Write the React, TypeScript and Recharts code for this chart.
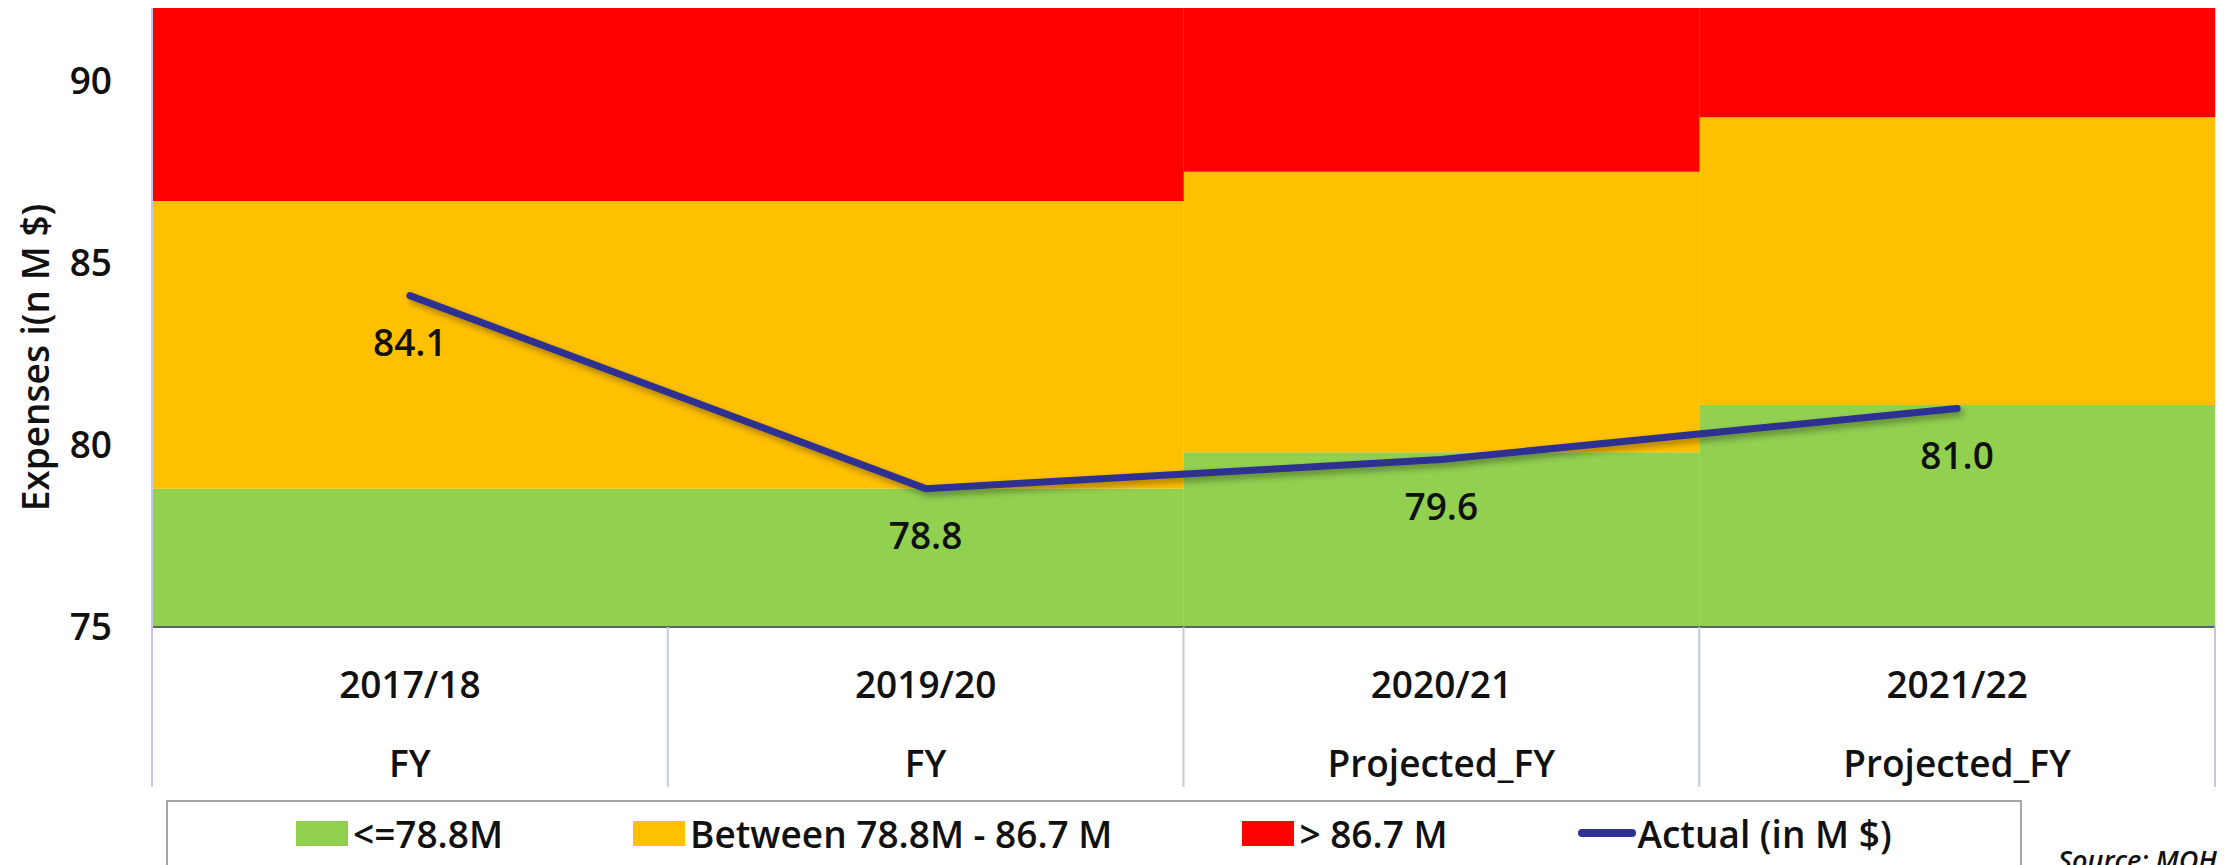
import {
  ComposedChart,
  Bar,
  Line,
  XAxis,
  YAxis,
  LabelList,
} from 'recharts';

// categories and values
const years = ['2017/18', '2019/20', '2020/21', '2021/22'];
const periods = ['FY', 'FY', 'Projected_FY', 'Projected_FY'];
const greenTop = [78.8, 78.8, 79.8, 81.1];
const redBottom = [86.7, 86.7, 87.5, 89.0];
const actual = [84.1, 78.8, 79.6, 81.0];

const yTicks = [75, 80, 85, 90];
const Y_MIN = 75;
const Y_MAX = 92;

const legendItems = [
  { label: '<=78.8M', color: '#92D050', kind: 'box' },
  { label: 'Between 78.8M - 86.7 M', color: '#FFC000', kind: 'box' },
  { label: '> 86.7 M', color: '#FF0000', kind: 'box' },
  { label: 'Actual (in M $)', color: '#2E3192', kind: 'line' },
];

const COLORS = {
  green: '#92D050',
  yellow: '#FFC000',
  red: '#FF0000',
  line: '#2E3192',
  text: '#111111',
  sep: '#c5c8e4',
};

const FONT = "'Open Sans', sans-serif";
const FS = 37;

const chartData = years.map((year, i) => ({
  year,
  period: periods[i],
  low: [Y_MIN, greenTop[i]],
  mid: [greenTop[i], redBottom[i]],
  high: [redBottom[i], Y_MAX],
  actual: actual[i],
}));

// two-line category tick with separators at the band edges
const CategoryTick = (props: any) => {
  const { x, y, payload } = props;
  const idx = years.indexOf(payload.value);
  const half = payload.offset ?? props.width / years.length / 2;
  const left = x - half;
  const right = x + half;
  return (
    <g>
      <line x1={left} y1={y} x2={left} y2={y + 160} stroke={COLORS.sep} strokeWidth={2} />
      {idx === years.length - 1 && (
        <line x1={right} y1={y} x2={right} y2={y + 160} stroke={COLORS.sep} strokeWidth={2} />
      )}
      <text
        x={x}
        y={y + 56}
        textAnchor="middle"
        dominantBaseline="central"
        fontFamily={FONT}
        fontWeight={600}
        fontSize={FS}
        fill={COLORS.text}
      >
        {years[idx]}
      </text>
      <text
        x={x}
        y={y + 135}
        textAnchor="middle"
        dominantBaseline="central"
        fontFamily={FONT}
        fontWeight={600}
        fontSize={FS}
        fill={COLORS.text}
      >
        {periods[idx]}
      </text>
    </g>
  );
};

const YTitle = (props: any) => {
  const { viewBox } = props;
  const cx = 34;
  const cy = viewBox.y + viewBox.height / 2 + 40;
  return (
    <text
      x={cx}
      y={cy}
      transform={`rotate(-90, ${cx}, ${cy})`}
      textAnchor="middle"
      dominantBaseline="central"
      fontFamily={FONT}
      fontWeight={600}
      fontSize={FS}
      fill={COLORS.text}
    >
      Expenses i(n M $)
    </text>
  );
};

export default function App() {
  return (
    <div style={{ position: 'absolute', left: 0, top: 0, width: 2224, height: 865, background: '#fff', overflow: 'hidden', fontFamily: FONT }}>
      <style>{`.actual-line path { filter: drop-shadow(3px 4px 3px rgba(0,0,0,0.35)); }`}</style>
      <ComposedChart
        width={2224}
        height={865}
        data={chartData}
        margin={{ top: 8, right: 9, left: 0, bottom: 78 }}
        barCategoryGap={0}
        barGap={0}
      >
        <XAxis
          xAxisId="x"
          dataKey="year"
          height={160}
          tick={<CategoryTick />}
          tickLine={false}
          tickSize={0}
          tickMargin={0}
          axisLine={{ stroke: '#5f6070', strokeWidth: 2 }}
          interval={0}
        />
        <XAxis xAxisId="x2" dataKey="year" hide />
        <XAxis xAxisId="x3" dataKey="year" hide />
        <YAxis
          domain={[Y_MIN, Y_MAX]}
          ticks={yTicks}
          width={152}
          tickLine={false}
          tickSize={0}
          tickMargin={40}
          axisLine={{ stroke: COLORS.sep, strokeWidth: 2 }}
          tick={{ fontSize: FS, fontWeight: 600, fill: COLORS.text, fontFamily: FONT }}
          label={<YTitle />}
          allowDataOverflow
        />

        {/* threshold bands */}
        <Bar xAxisId="x" dataKey="low" fill={COLORS.green} isAnimationActive={false} />
        <Bar xAxisId="x2" dataKey="mid" fill={COLORS.yellow} isAnimationActive={false} />
        <Bar xAxisId="x3" dataKey="high" fill={COLORS.red} isAnimationActive={false} />

        {/* actual expenses */}
        <Line
          xAxisId="x"
          className="actual-line"
          type="linear"
          dataKey="actual"
          stroke={COLORS.line}
          strokeWidth={7}
          strokeLinecap="round"
          dot={false}
          activeDot={false}
          isAnimationActive={false}
        >
          <LabelList
            dataKey="actual"
            position="bottom"
            offset={34}
            formatter={(v: any) => Number(v).toFixed(1)}
            style={{ fontSize: FS, fontWeight: 600, fill: COLORS.text, fontFamily: FONT }}
          />
        </Line>
      </ComposedChart>

      {/* legend box */}
      <div
        style={{
          position: 'absolute',
          left: 166,
          top: 800,
          width: 1856,
          height: 90,
          border: '2px solid #a6a6a6',
          boxSizing: 'border-box',
          display: 'flex',
          alignItems: 'center',
          paddingLeft: 128,
          paddingBottom: 24,
          gap: 130,
        }}
      >
        {legendItems.map((item) => (
          <div key={item.label} style={{ display: 'flex', alignItems: 'center' }}>
            {item.kind === 'box' ? (
              <span style={{ display: 'inline-block', width: 52, height: 25, background: item.color, marginRight: 5 }} />
            ) : (
              <span style={{ display: 'inline-block', width: 58, height: 8, borderRadius: 4, background: item.color, marginRight: 2 }} />
            )}
            <span style={{ fontSize: FS, fontWeight: 600, color: COLORS.text, whiteSpace: 'nowrap', lineHeight: 1 }}>
              {item.label}
            </span>
          </div>
        ))}
      </div>

      <div
        style={{
          position: 'absolute',
          left: 2058,
          top: 841,
          fontSize: 27,
          fontWeight: 600,
          fontStyle: 'italic',
          color: COLORS.text,
          whiteSpace: 'nowrap',
        }}
      >
        Source: MOH
      </div>
    </div>
  );
}
